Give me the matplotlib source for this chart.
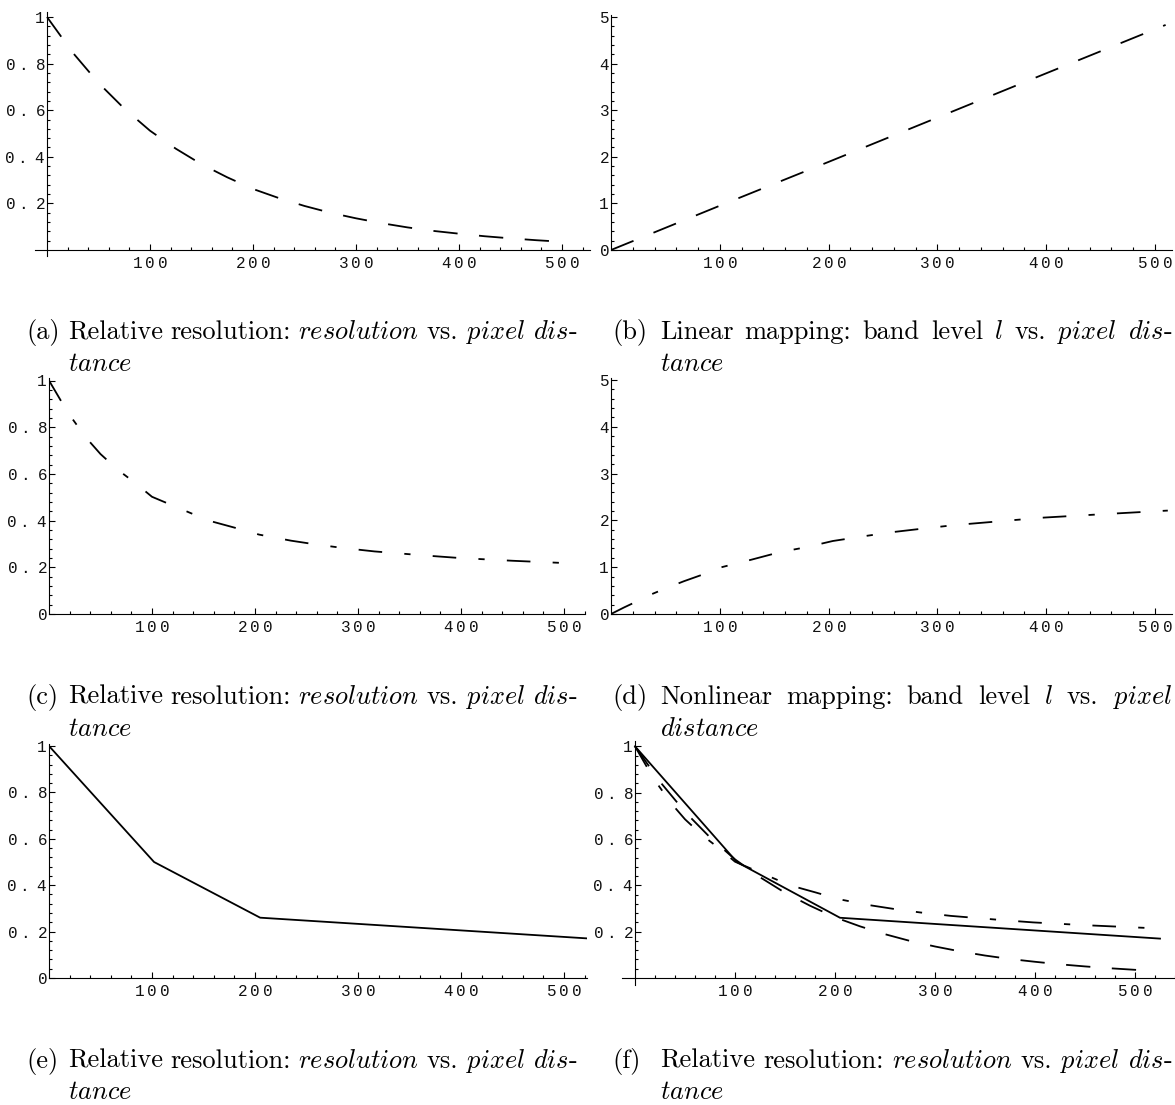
import numpy as np
import matplotlib
matplotlib.use("Agg")
import matplotlib.pyplot as plt
from matplotlib.ticker import FixedLocator, FixedFormatter

plt.rcParams['mathtext.fontset'] = 'custom'
plt.rcParams['mathtext.rm'] = 'cmr10'
plt.rcParams['mathtext.it'] = 'cmmi10'
plt.rcParams['mathtext.tt'] = 'Liberation Mono'
plt.rcParams['lines.scale_dashes'] = False
plt.rcParams['axes.unicode_minus'] = False

# (a) resolution with the linear mapping
lin_dist = [0, 25, 50, 75, 100, 125, 150, 175, 200, 225, 250, 275, 300,
            325, 350, 375, 400, 425, 450, 475, 505]
lin_res = [1.0, 0.847, 0.717, 0.607, 0.512, 0.435, 0.368, 0.312, 0.262, 0.223,
           0.189, 0.160, 0.136, 0.115, 0.097, 0.082, 0.070, 0.059, 0.050,
           0.042, 0.034]
# (b) band level, linear mapping
lvl_dist = [0, 100, 200, 300, 400, 510]
lin_level = [0.0, 0.95, 1.89, 2.84, 3.79, 4.83]
# (c)/(d) nonlinear mapping
nl_dist = [0, 12, 22, 36, 50, 67, 84, 100, 129, 155, 180, 204, 235, 259,
           285, 316, 367, 398, 450, 512]
nl_res = [1.0, 0.91, 0.84, 0.755, 0.685, 0.617, 0.56, 0.502, 0.448, 0.40,
          0.37, 0.34, 0.314, 0.298, 0.283, 0.268, 0.25, 0.24, 0.228, 0.216]
nl_level = [0.0, 0.14, 0.25, 0.41, 0.545, 0.70, 0.84, 0.99, 1.16, 1.32,
            1.43, 1.56, 1.67, 1.75, 1.82, 1.90, 2.0, 2.06, 2.13, 2.21]
# (e) piecewise linear resolution
pw_dist = [0, 102, 205, 525]
pw_res = [1.0, 0.5, 0.26, 0.17]

x_major = [100, 200, 300, 400, 500]
res_major = [0.2, 0.4, 0.6, 0.8, 1.0]
lvl_major = [0, 1, 2, 3, 4, 5]

W, H = 1175, 1105
fig = plt.figure(figsize=(W / 100, H / 100), dpi=100)

DASH = (0, (17.5, 15.5))
DASHDOT = (0, (17, 16, 4.5, 16))


def spaced(v):
    # courier-like letter spacing for the tick labels
    s = '%g' % v
    out = r'\mathtt{%s}' % s[0]
    for a, b in zip(s[:-1], s[1:]):
        g = 0.29 if '.' in (a, b) else 0.21
        out += r'\hspace{%g}\mathtt{%s}' % (g, b)
    return '$' + out + '$'


def panel(ox, oy, sx, sy, xlim, ylim, yticks, yminor):
    left = ox + xlim[0] * sx
    right = ox + xlim[1] * sx
    top = oy - ylim[1] * sy
    bottom = oy - ylim[0] * sy
    ax = fig.add_axes([left / W, 1 - bottom / H, (right - left) / W, (bottom - top) / H])
    ax.set_xlim(xlim)
    ax.set_ylim(ylim)
    for s in ['top', 'right']:
        ax.spines[s].set_visible(False)
    ax.spines['left'].set_position(('data', 0))
    ax.spines['bottom'].set_position(('data', 0))
    for s in ['left', 'bottom']:
        ax.spines[s].set_linewidth(0.8)
    ax.patch.set_visible(False)
    ax.xaxis.set_major_locator(FixedLocator(x_major))
    ax.xaxis.set_major_formatter(FixedFormatter([spaced(v) for v in x_major]))
    xm = [v for v in range(20, int(xlim[1]) + 1, 20) if v % 100]
    ax.xaxis.set_minor_locator(FixedLocator(xm))
    ax.yaxis.set_major_locator(FixedLocator(yticks))
    ax.yaxis.set_major_formatter(FixedFormatter([spaced(v) for v in yticks]))
    ax.yaxis.set_minor_locator(FixedLocator(yminor))
    ax.tick_params(which='both', direction='in', width=0.8, labelsize=11.5,
                   labelcolor='#111111')
    ax.tick_params(which='major', length=4)
    ax.tick_params(axis='x', which='major', pad=4)
    ax.tick_params(axis='y', which='major', pad=1.2)
    ax.tick_params(which='minor', length=2)
    return ax


res_minor = [round(0.04 * i, 2) for i in range(1, 25) if i % 5]
lvl_minor = [round(0.2 * i, 1) for i in range(1, 25) if i % 5]

# (a)
ax = panel(47, 250, 1.03, 233, (-12, 527), (-0.026, 1.02), res_major, res_minor)
ax.plot(lin_dist, lin_res, color='black', lw=1.3, linestyle=DASH)
# (b)
ax = panel(611, 250, 1.0875, 46.6, (0, 516), (0, 5.05), lvl_major, lvl_minor)
ax.plot(lvl_dist, lin_level, color='black', lw=1.3, linestyle=DASH)
# (c)
ax = panel(49, 614, 1.03, 233.5, (0, 520), (0, 1.01), [0] + res_major, res_minor)
ax.plot(nl_dist, nl_res, color='black', lw=1.3, linestyle=DASHDOT)
# (d)
ax = panel(611, 614, 1.0875, 46.8, (0, 516), (0, 5.05), lvl_major, lvl_minor)
ax.plot(nl_dist, nl_level, color='black', lw=1.3, linestyle=DASHDOT)
# (e)
ax = panel(49, 978, 1.03, 232, (0, 522), (0, 1.01), [0] + res_major, res_minor)
ax.plot(pw_dist, pw_res, color='black', lw=1.3)
# (f)
ax = panel(635, 978, 1.0, 231.7, (-13, 540), (-0.03, 1.025), res_major, res_minor)
ax.plot(lin_dist, lin_res, color='black', lw=1.3, linestyle=DASH)
ax.plot(nl_dist, nl_res, color='black', lw=1.3, linestyle=DASHDOT)
ax.plot(pw_dist, pw_res, color='black', lw=1.3)

# captions
CAP = dict(family='cmr10', fontsize=19, va='baseline', ha='left')
res_words = ['Relative', 'resolution:', r'$\mathit{resolution}$', 'vs.',
             r'$\mathit{pixel}$', r'$\mathit{dis}$-']
lin_words = ['Linear', 'mapping:', 'band', 'level', r'$\mathit{l}$', 'vs.',
             r'$\mathit{pixel}$', r'$\mathit{dis}$-']
nl_words = ['Nonlinear', 'mapping:', 'band', 'level', r'$\mathit{l}$', 'vs.',
            r'$\mathit{pixel}$']


def caption(label, words, tail, xl, x0, x1, y1, y2):
    fig.text(xl / W, 1 - y1 / H, label, **CAP)
    texts = [fig.text(0, 1 - y1 / H, w, **CAP) for w in words]
    r = fig.canvas.get_renderer()
    widths = [t.get_window_extent(r).width for t in texts]
    gap = (x1 - x0 - sum(widths)) / (len(words) - 1)
    x = x0
    for t, w in zip(texts, widths):
        t.set_x(x / W)
        x += w + gap
    fig.text(x0 / W, 1 - y2 / H, tail, **CAP)


caption('(a)', res_words, r'$\mathit{tance}$', 26, 68, 577, 339, 371)
caption('(b)', lin_words, r'$\mathit{tance}$', 612, 660, 1172, 339, 371)
caption('(c)', res_words, r'$\mathit{tance}$', 26, 68, 577, 704, 736)
caption('(d)', nl_words, r'$\mathit{distance}$', 612, 660, 1172, 704, 736)
caption('(e)', res_words, r'$\mathit{tance}$', 26, 68, 577, 1068, 1099)
caption('(f)', res_words, r'$\mathit{tance}$', 612, 660, 1172, 1068, 1099)

fig.savefig('out.png', dpi=100)
